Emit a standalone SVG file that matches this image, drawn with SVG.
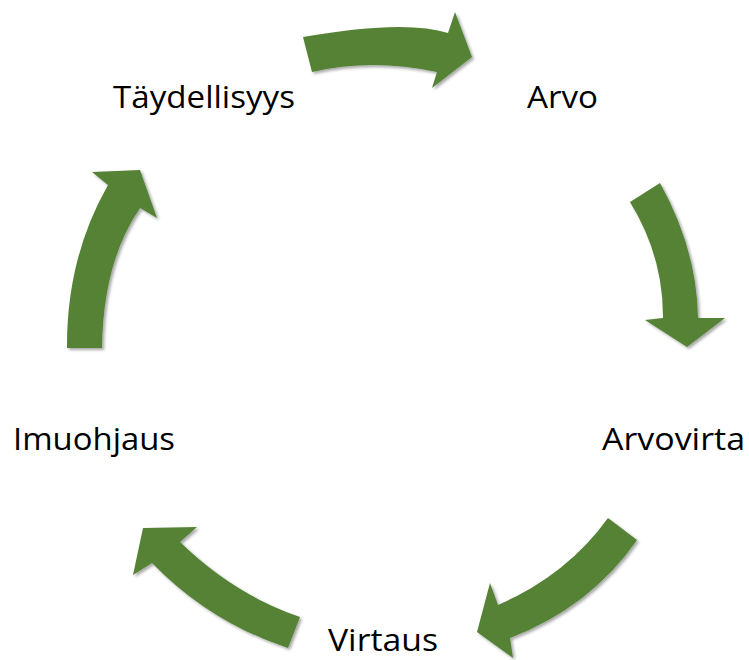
<svg xmlns="http://www.w3.org/2000/svg" width="749" height="660" viewBox="0 0 749 660">
<style>
.lbl{font-family:"Open Sans","Liberation Sans",sans-serif;font-size:31px;fill:#000}
.arr{fill:#548235;filter:url(#sh)}
</style>
<defs>
<filter id="sh" x="-20%" y="-20%" width="140%" height="140%">
<feDropShadow dx="2" dy="2" stdDeviation="1.5" flood-color="#000" flood-opacity="0.35"/>
</filter>
</defs>
<rect width="749" height="660" fill="#fff"/>
<g id="connectors">
<path class="arr" d="M303,37 Q404.5,19 448,33 L455,12 L472,57 L432,88 L437,72 Q371.5,58 312,72 Z"/>
<path class="arr" d="M660,183 Q697,249.5 698,318 L725,318 L687,347 L645,320 L663,318 Q663.5,256.5 630,202 Z"/>
<path class="arr" d="M637,540 Q590.5,607 510,638 L513,658 L477,632 L490,583 L498,605 Q567,575 608,518 Z"/>
<path class="arr" d="M288,648 Q210,622.5 152,563 L133,575 L143,528 L197,527 L180,542 Q234,594.5 300,617 Z"/>
<path class="arr" d="M67,348 Q66.5,257.5 108,185 L92,172 L140,170 L157,218 L140,208 Q103,262 102,348 Z"/>
</g>
<g id="node-taydellisyys"><text class="lbl" x="113" y="108" textLength="182" lengthAdjust="spacingAndGlyphs">Täydellisyys</text></g>
<g id="node-arvo"><text class="lbl" x="527" y="108" textLength="71" lengthAdjust="spacingAndGlyphs">Arvo</text></g>
<g id="node-arvovirta"><text class="lbl" x="602" y="450" textLength="143" lengthAdjust="spacingAndGlyphs">Arvovirta</text></g>
<g id="node-virtaus"><text class="lbl" x="328" y="651" textLength="110" lengthAdjust="spacingAndGlyphs">Virtaus</text></g>
<g id="node-imuohjaus"><text class="lbl" x="13" y="450" textLength="162" lengthAdjust="spacingAndGlyphs">Imuohjaus</text></g>
</svg>
